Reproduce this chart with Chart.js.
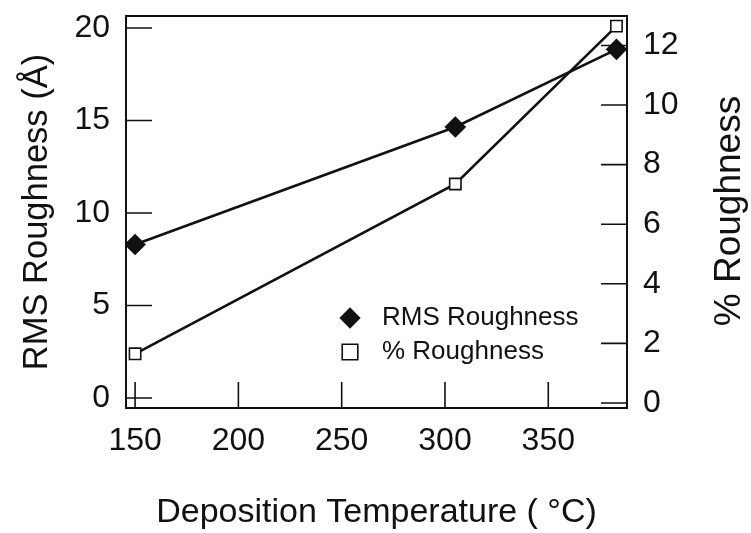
<!DOCTYPE html>
<html>
<head>
<meta charset="utf-8">
<script src="https://cdn.jsdelivr.net/npm/chart.js@4.4.1/dist/chart.umd.min.js"></script>
<style>
  html, body { margin: 0; padding: 0; background: #fff; }
  #wrap { width: 751px; height: 533px; position: relative; }
</style>
</head>
<body>
<div id="wrap"><canvas id="roughChart"></canvas></div>
<script>
// Values
const temps = [150, 305, 383];                 // deposition temperature (°C)
const rmsRoughness = [8.3, 14.65, 18.85];      // RMS roughness (Å)
const pctRoughness = [1.65, 7.35, 12.65];      // % roughness

const seriesNames = ['RMS Roughness', '% Roughness'];
const xTitle = 'Deposition Temperature ( °C)';
const yLeftTitle = 'RMS Roughness (Å)';
const yRightTitle = '% Roughness';

const FONT = '"Liberation Sans", Arial, Helvetica, sans-serif';
const INK = '#111';

// inward tick marks + frame box
const frameTicks = {
    id: 'frameTicks',
    beforeDatasetsDraw(chart) {
        const ctx = chart.ctx;
        const a = chart.chartArea;
        const len = 26;
        ctx.save();
        ctx.strokeStyle = INK;
        ctx.lineWidth = 1.6;
        ctx.beginPath();
        chart.scales.x.ticks.forEach(t => {
            const px = chart.scales.x.getPixelForValue(t.value);
            ctx.moveTo(px, a.bottom);
            ctx.lineTo(px, a.bottom - len);
        });
        chart.scales.y.ticks.forEach(t => {
            const py = chart.scales.y.getPixelForValue(t.value);
            ctx.moveTo(a.left, py);
            ctx.lineTo(a.left + len, py);
        });
        chart.scales.y2.ticks.forEach(t => {
            const py = chart.scales.y2.getPixelForValue(t.value);
            ctx.moveTo(a.right, py);
            ctx.lineTo(a.right - len, py);
        });
        ctx.stroke();
        ctx.lineWidth = 2;
        ctx.strokeRect(a.left, a.top, a.right - a.left, a.bottom - a.top);
        ctx.restore();
    }
};

// legend inside the plot, and the right title reading bottom-to-top
const innerLegend = {
    id: 'innerLegend',
    afterDraw(chart) {
        const ctx = chart.ctx;
        const a = chart.chartArea;
        const symX = a.left + 224;
        const textX = a.left + 256;
        const rowY = [a.top + 302, a.top + 336];
        ctx.save();
        ctx.font = '26px ' + FONT;
        ctx.fillStyle = INK;
        ctx.textBaseline = 'middle';
        chart.data.datasets.forEach((ds, i) => {
            ctx.fillStyle = ds.pointBackgroundColor;
            ctx.strokeStyle = ds.pointBorderColor;
            ctx.lineWidth = 1.6;
            Chart.helpers.drawPoint(ctx, {
                pointStyle: ds.pointStyle,
                radius: i === 0 ? 9.5 : 11,
                borderWidth: 1.6
            }, symX, rowY[i]);
            ctx.fillStyle = INK;
            ctx.fillText(ds.label, textX, rowY[i]);
        });

        ctx.translate(730, 211);
        ctx.rotate(-Math.PI / 2);
        ctx.textAlign = 'center';
        ctx.font = '37px ' + FONT;
        ctx.fillText(yRightTitle, 0, 0);
        ctx.restore();
    }
};

const noPad = s => {
    s.paddingTop = 0; s.paddingBottom = 0;
    s.paddingLeft = 0; s.paddingRight = 0;
};

const ctx = document.getElementById('roughChart').getContext('2d');
new Chart(ctx, {
    type: 'line',
    data: {
        datasets: [{
            label: seriesNames[0],
            data: temps.map((t, i) => ({ x: t, y: rmsRoughness[i] })),
            yAxisID: 'y',
            borderColor: INK,
            borderWidth: 2.6,
            pointStyle: 'rectRot',
            pointRadius: 9,
            pointBackgroundColor: INK,
            pointBorderColor: INK,
            tension: 0
        }, {
            label: seriesNames[1],
            data: temps.map((t, i) => ({ x: t, y: pctRoughness[i] })),
            yAxisID: 'y2',
            borderColor: INK,
            borderWidth: 2.6,
            pointStyle: 'rect',
            pointRadius: 8,
            pointBorderWidth: 1.6,
            pointBackgroundColor: '#fff',
            pointBorderColor: INK,
            tension: 0
        }]
    },
    options: {
        responsive: true,
        maintainAspectRatio: false,
        animation: false,
        layout: { padding: { top: 16, left: 0, right: 0, bottom: 0 } },
        plugins: {
            legend: { display: false },
            tooltip: { enabled: false }
        },
        scales: {
            x: {
                type: 'linear',
                min: 145.6,
                max: 388.1,
                afterFit: s => { s.height = 125; noPad(s); },
                grid: { display: false, drawTicks: false },
                border: { display: false },
                ticks: {
                    stepSize: 50,
                    includeBounds: false,
                    padding: 14,
                    maxRotation: 0,
                    color: INK,
                    font: { family: FONT, size: 32 }
                },
                title: {
                    display: true,
                    text: xTitle,
                    color: INK,
                    padding: 0,
                    font: { family: FONT, size: 34 }
                }
            },
            y: {
                position: 'left',
                min: -0.54,
                max: 20.65,
                afterFit: s => { s.width = 126; noPad(s); },
                grid: { display: false, drawTicks: false },
                border: { display: false },
                ticks: {
                    stepSize: 5,
                    includeBounds: false,
                    padding: 16,
                    color: INK,
                    font: { family: FONT, size: 32 }
                },
                title: {
                    display: true,
                    text: yLeftTitle,
                    color: INK,
                    padding: { top: 17, bottom: 0 },
                    font: { family: FONT, size: 34.5 }
                }
            },
            y2: {
                position: 'right',
                min: -0.17,
                max: 12.99,
                afterFit: s => { s.width = 124; noPad(s); },
                grid: { display: false, drawTicks: false },
                border: { display: false },
                ticks: {
                    stepSize: 2,
                    includeBounds: false,
                    padding: 16,
                    color: INK,
                    font: { family: FONT, size: 32 }
                }
            }
        }
    },
    plugins: [frameTicks, innerLegend]
});
</script>
</body>
</html>
